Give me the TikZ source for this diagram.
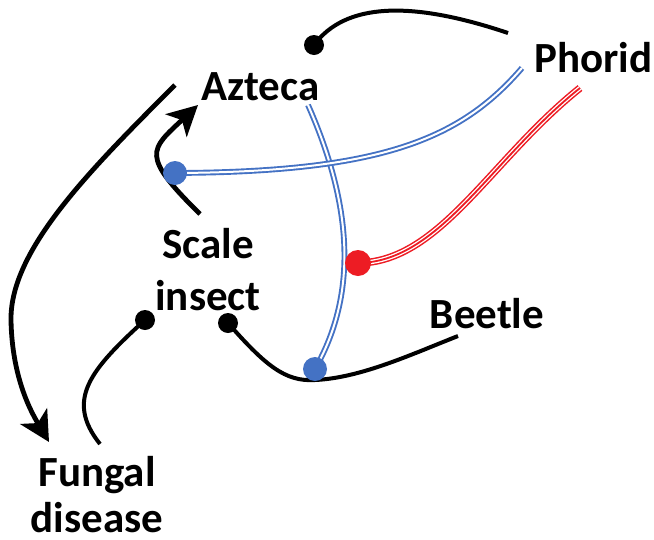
\documentclass[tikz,border=0pt]{standalone}
\usepackage{fontspec}
\setmainfont{Carlito}
\usetikzlibrary{arrows.meta}
\definecolor{linkblue}{HTML}{4472C4}
\definecolor{linkred}{HTML}{ED1C24}

\begin{document}
\begin{tikzpicture}[x=1pt, y=-1pt, line cap=butt,
  species/.style={font=\bfseries\fontsize{43}{52}\selectfont, inner sep=0pt, align=center, anchor=base},
  hub/.style={circle, fill=#1, inner sep=0pt, minimum size=20pt},
  feed/.style={draw=black, line width=4pt},
  effect/.style={draw=black, line width=4.8pt, -{Stealth[length=30pt, width=31pt, inset=8pt]}},
  blueline/.style={draw=linkblue, line width=1.9pt, double=white, double distance=2pt},
  redline/.style={draw=linkred, line width=1.8pt, preaction={draw=linkred, line width=7.4pt}, preaction={draw=white, line width=4.4pt}}]
\useasboundingbox (0,0) rectangle (654,539);
\coordinate (scalept) at (175,173);
\coordinate (redpt) at (358,263);
\coordinate (beetlept) at (315,369);
\coordinate (aztecapt) at (314,45);
\coordinate (fungpt) at (145,320);
\coordinate (insectpt) at (228,323);
\coordinate (aztop) at (308,105);
\coordinate (phblue) at (522,68);
\coordinate (phred) at (580,88);
\coordinate (phblack) at (508,33);
\coordinate (beetleend) at (458,336);
\coordinate (fungend) at (100,444);
\coordinate (bigtail) at (175,85);
\coordinate (bighead) at (49,442);
\coordinate (smalltail) at (200,214);
\coordinate (smallhead) at (198,105);
\draw[blueline] (aztop) .. controls (350,200) and (360,290) .. (beetlept);
\draw[blueline] (scalept) .. controls (380,172) and (460,140) .. (phblue);
\draw[redline] (redpt) .. controls (440,262) and (490,160) .. (phred);
\draw[feed] (aztecapt) .. controls (345,3) and (410,0) .. (phblack);
\draw[feed] (insectpt) .. controls (265,365) and (285,382) .. (315,380) .. controls (360,378) and (410,355) .. (beetleend);
\draw[feed] (fungpt) .. controls (90,370) and (65,400) .. (fungend);
\draw[effect] (bigtail) .. controls (90,170) and (10,250) .. (11,320) .. controls (12,380) and (33,415) .. (bighead);
\draw[effect] (smalltail) .. controls (140,155) and (150,150) .. (smallhead);
\node[hub=linkblue, minimum size=24pt] (scalehub) at (scalept) {};
\node[hub=linkred, minimum size=26pt] (redhub) at (redpt) {};
\node[hub=linkblue, minimum size=24pt] (beetlehub) at (beetlept) {};
\node[hub=black] (aztecahub) at (aztecapt) {};
\node[hub=black] (funghub) at (fungpt) {};
\node[hub=black] (insecthub) at (insectpt) {};
\node[species] (azteca) at (260.5,100) {Azteca};
\node[species] (phorid) at (593.5,72) {Phorid};
\node[species] (beetle) at (487,328) {Beetle};
\node[species] (scale) at (208,310) {Scale\\insect};
\node[species, font=\bfseries\fontsize{43}{46}\selectfont] (fungal) at (97,532) {Fungal\\disease};
\end{tikzpicture}
\end{document}
